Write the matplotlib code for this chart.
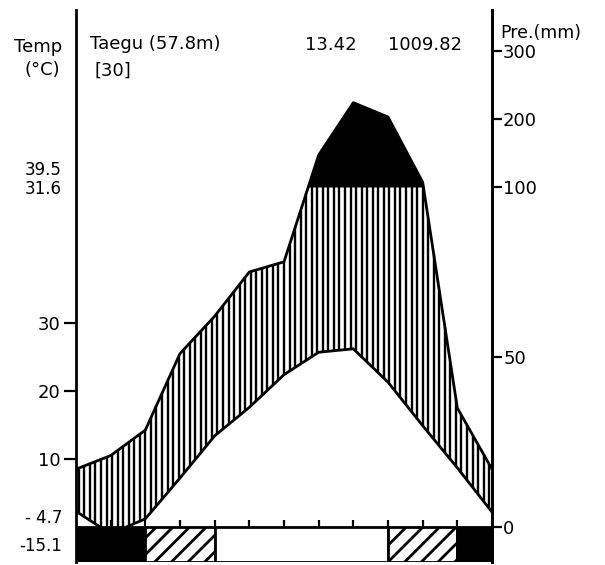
import numpy as np
import matplotlib
matplotlib.use("Agg")
import matplotlib.pyplot as plt
from itertools import groupby

# ---------------- data ----------------
# positions 0..12: Dec (repeated), Jan ... Dec
month_pos = list(range(13))
month_names = ['Dec', 'Jan', 'Feb', 'Mar', 'Apr', 'May', 'Jun',
               'Jul', 'Aug', 'Sep', 'Oct', 'Nov', 'Dec']
temp_c = [2.3, -1.0, 1.2, 7.2, 13.4, 17.6, 22.4, 25.7, 26.2, 21.3, 14.9, 8.7, 2.2]
precip_mm = [17, 21, 28.5, 51, 62, 75, 78, 147, 224, 203, 107, 35, 17]

frost_months = ['Jan', 'Feb', 'Mar', 'Apr', 'May', 'Jun',
                'Jul', 'Aug', 'Sep', 'Oct', 'Nov', 'Dec']
frost_class = ['black', 'black', 'hatch', 'hatch', 'white', 'white',
               'white', 'white', 'white', 'hatch', 'hatch', 'black']

temp_ticks = [10, 20, 30]
precip_ticks = [0, 50, 100, 200, 300]

station = "Taegu (57.8m)"
years = "[30]"
annual_temp = "13.42"
annual_precip = "1009.82"
extreme_labels = ['39.5', '31.6', '- 4.7', '-15.1']

# ---------------- scales ----------------
def p2u(p):
    p = np.asarray(p, dtype=float)
    return np.where(p <= 100, p / 2.0, 50 + (p - 100) / 10.0)

def u2p(u):
    u = np.asarray(u, dtype=float)
    return np.where(u <= 50, u * 2.0, 100 + (u - 50) * 10.0)

plt.rcParams['font.family'] = ['DejaVu Sans']
plt.rcParams['hatch.linewidth'] = 2.0

W, H = 605, 565
fig = plt.figure(figsize=(W / 100, H / 100), dpi=100)
ax = fig.add_axes([76 / W, 3 / H, 416 / W, 552 / H])
ax.set_xlim(0, 12)
ax.set_ylim(-5.15, 76.03)

pu = p2u(precip_mm)

# vertical hatch (humid period)
xs = np.arange(0.08, 12, 0.16)
t_i = np.interp(xs, month_pos, temp_c)
p_i = np.interp(xs, month_pos, pu)
top = np.minimum(p_i, 50)
m = top > t_i
ax.vlines(xs[m], t_i[m], top[m], color='black', lw=1.7, zorder=2)

# black area above 100 mm
xf = np.linspace(0, 12, 2401)
pf = np.interp(xf, month_pos, pu)
ax.fill_between(xf, 50, pf, where=pf > 50, interpolate=True,
                color='black', lw=0, zorder=3)

# curves
ax.plot(month_pos, temp_c, color='black', lw=2.0, zorder=4)
ax.plot(month_pos, pu, color='black', lw=2.0, zorder=4)

# frost bar
start = 0
for cls, grp in groupby(frost_class):
    n = len(list(grp))
    if cls == 'black':
        fc, hatch = 'black', None
    elif cls == 'hatch':
        fc, hatch = 'white', '//'
    else:
        fc, hatch = 'white', None
    ax.bar(start + n / 2, 5.15, bottom=-5.15, width=n, facecolor=fc,
           edgecolor='black', hatch=hatch, lw=2.0, zorder=6)
    start += n

# month boundary ticks
ax.vlines(range(1, 12), 0, 1.0, color='black', lw=1.6, zorder=5)

# axes styling
for s in ['top', 'bottom']:
    ax.spines[s].set_visible(False)
for s in ['left', 'right']:
    ax.spines[s].set_linewidth(2.0)
ax.set_xticks([])
ax.set_yticks(temp_ticks)
ax.set_yticklabels([str(v) for v in temp_ticks], fontsize=13)
ax.tick_params(axis='y', direction='out', length=9, width=1.6, pad=2)

sec = ax.secondary_yaxis('right', functions=(u2p, p2u))
sec.set_yticks(precip_ticks)
sec.set_yticklabels([str(v) for v in precip_ticks], fontsize=13)
sec.tick_params(axis='y', direction='out', length=7, width=1.6, pad=1)
sec.spines['right'].set_linewidth(2.0)

# texts
def ft(x, y, s, ha='left', size=13, **kw):
    fig.text(x / W, 1 - y / H, s, ha=ha, va='center', fontsize=size, **kw)

ft(62, 47, "Temp", ha='right')
ft(60, 70, "(°C)", ha='right')
ft(90, 44, station)
ft(95, 71, years)
ft(305, 45, annual_temp)
ft(388, 45, annual_precip)
ft(500, 33, "Pre.(mm)", size=12.5)
for lab, yy in zip(extreme_labels, [170, 189, 518, 546]):
    ft(62, yy, lab, ha='right', size=12)

fig.savefig("out.png", dpi=100)
